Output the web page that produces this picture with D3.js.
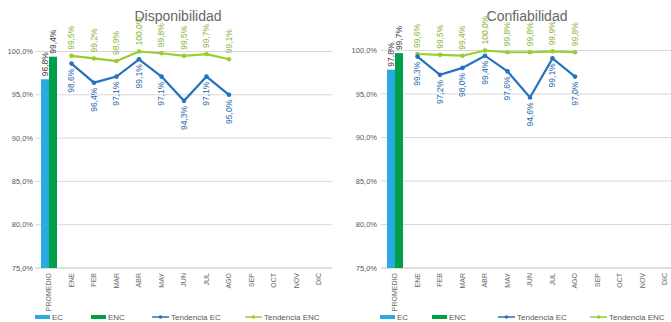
<!DOCTYPE html>
<html>
<head>
<meta charset="utf-8">
<script src="https://cdn.jsdelivr.net/npm/d3@7"></script>
<style>
  body { margin: 0; background: #fff; }
  text { font-family: Arial, "Liberation Sans", sans-serif; }
</style>
</head>
<body>
<svg class="display"></svg>
<script>
const categories = ['PROMEDIO', 'ENE', 'FEB', 'MAR', 'ABR', 'MAY', 'JUN', 'JUL', 'AGO', 'SEP', 'OCT', 'NOV', 'DIC'];
const months = ['ENE', 'FEB', 'MAR', 'ABR', 'MAY', 'JUN', 'JUL', 'AGO'];
const yTicks = [75, 80, 85, 90, 95, 100];

// Disponibilidad
const dispBars = [96.8, 99.4];            // EC, ENC promedio
const dispTendEC = [98.6, 96.4, 97.1, 99.1, 97.1, 94.3, 97.1, 95.0];
const dispTendENC = [99.5, 99.2, 98.9, 100.0, 99.8, 99.5, 99.7, 99.1];

// Confiabilidad
const confBars = [97.8, 99.7];
const confTendEC = [99.3, 97.2, 98.0, 99.4, 97.6, 94.6, 99.1, 97.0];
const confTendENC = [99.6, 99.5, 99.4, 100.0, 99.8, 99.8, 99.9, 99.8];

const width = 671;
const height = 322;

const colEC = '#29abe2';
const colENC = '#00a04b';
const colTendEC = '#2672be';
const colTendENC = '#9acd32';
const labEC = '#2a6ab0';
const labENC = '#8ab33a';
const grey = '#595959';

const fmt = v => d3.format('.1f')(v).replace('.', ',') + '%';

const svg = d3.select('.display')
  .attr('width', width)
  .attr('height', height);

drawChart({
  title: 'Disponibilidad', titleX: 178,
  x0: 37.75, x1: 330.25, gridX0: 35, gridX1: 332, tickX: 33,
  yTop: 51.5,
  bars: dispBars, tendEC: dispTendEC, tendENC: dispTendENC,
  legend: [35, 91, 152, 245]
});

drawChart({
  title: 'Confiabilidad', titleX: 527,
  x0: 383.75, x1: 676.25, gridX0: 381, gridX1: 671, tickX: 377,
  yTop: 50.5,
  bars: confBars, tendEC: confTendEC, tendENC: confTendENC,
  legend: [380, 432, 498, 590]
});

function drawChart(o) {
  const g = svg.append('g');

  const x = d3.scaleBand()
    .domain(categories)
    .range([o.x0, o.x1]);

  const y = d3.scaleLinear()
    .domain([75, 100])
    .range([268, o.yTop]);

  // title
  g.append('text')
    .attr('x', o.titleX)
    .attr('y', 21)
    .attr('text-anchor', 'middle')
    .attr('fill', '#666')
    .style('font-size', '14px')
    .text(o.title);

  // gridlines
  g.selectAll('.grid')
    .data(yTicks)
    .enter().append('line')
      .attr('x1', o.gridX0)
      .attr('x2', o.gridX1)
      .attr('y1', d => y(d))
      .attr('y2', d => y(d))
      .attr('stroke', d => d === 75 ? '#bfbfbf' : '#d9d9d9')
      .attr('stroke-width', 1);

  // y tick labels
  g.selectAll('.ytick')
    .data(yTicks)
    .enter().append('text')
      .attr('x', o.tickX)
      .attr('y', d => y(d))
      .attr('dy', '0.35em')
      .attr('text-anchor', 'end')
      .attr('fill', grey)
      .style('font-size', '7.5px')
      .text(d => d3.format('.1f')(d).replace('.', ',') + '%');

  // category labels
  g.selectAll('.xtick')
    .data(categories)
    .enter().append('text')
      .attr('transform', d => 'translate(' + (x(d) + x.bandwidth() / 2) + ',273) rotate(-90)')
      .attr('dy', '0.35em')
      .attr('text-anchor', 'end')
      .attr('fill', '#6a6a6a')
      .style('font-size', '7px')
      .text(d => d);

  // promedio bars
  const cx = x('PROMEDIO') + x.bandwidth() / 2;
  const barW = 8;
  const bars = [
    { v: o.bars[0], c: colEC, x: cx - barW },
    { v: o.bars[1], c: colENC, x: cx }
  ];
  g.selectAll('.bar')
    .data(bars)
    .enter().append('rect')
      .attr('x', d => d.x)
      .attr('width', barW)
      .attr('y', d => y(d.v))
      .attr('height', d => y(75) - y(d.v))
      .attr('fill', d => d.c);

  g.selectAll('.barlab')
    .data(bars)
    .enter().append('text')
      .attr('transform', d => 'translate(' + (d.x + barW / 2) + ',' + (y(d.v) - 3) + ') rotate(-90)')
      .attr('dy', '0.35em')
      .attr('fill', '#404040')
      .style('font-size', '8.5px')
      .text(d => fmt(d.v));

  const mx = m => x(m) + x.bandwidth() / 2;
  const line = d3.line()
    .x((d, i) => mx(months[i]))
    .y(d => y(d));

  // series lines
  [[o.tendENC, colTendENC], [o.tendEC, colTendEC]].forEach(([vals, col]) => {
    g.append('path')
      .datum(vals)
      .attr('d', line)
      .attr('fill', 'none')
      .attr('stroke', col)
      .attr('stroke-width', 2.2);

    g.selectAll(null)
      .data(vals)
      .enter().append('circle')
        .attr('cx', (d, i) => mx(months[i]))
        .attr('cy', d => y(d))
        .attr('r', 2.3)
        .attr('fill', col);
  });

  // labels: ENC above, EC below
  g.selectAll(null)
    .data(o.tendENC)
    .enter().append('text')
      .attr('transform', (d, i) => 'translate(' + mx(months[i]) + ',' + (y(d) - 6) + ') rotate(-90)')
      .attr('dy', '0.35em')
      .attr('fill', labENC)
      .style('font-size', '8.5px')
      .text(d => fmt(d));

  g.selectAll(null)
    .data(o.tendEC)
    .enter().append('text')
      .attr('transform', (d, i) => 'translate(' + mx(months[i]) + ',' + (y(d) + 5) + ') rotate(-90)')
      .attr('dy', '0.35em')
      .attr('text-anchor', 'end')
      .attr('fill', labEC)
      .style('font-size', '8.5px')
      .text(d => fmt(d));

  // legend
  const ly = 317;
  const lg = g.append('g');
  const items = [
    { t: 'EC', c: colEC, type: 'rect' },
    { t: 'ENC', c: colENC, type: 'rect' },
    { t: 'Tendencia EC', c: colTendEC, type: 'line' },
    { t: 'Tendencia ENC', c: colTendENC, type: 'line' }
  ];
  items.forEach((it, i) => {
    const lx = o.legend[i];
    if (it.type === 'rect') {
      lg.append('rect')
        .attr('x', lx).attr('y', ly - 2)
        .attr('width', 15).attr('height', 4)
        .attr('fill', it.c);
    } else {
      lg.append('line')
        .attr('x1', lx).attr('x2', lx + 17)
        .attr('y1', ly).attr('y2', ly)
        .attr('stroke', it.c).attr('stroke-width', 1.5);
      lg.append('circle')
        .attr('cx', lx + 8.5).attr('cy', ly)
        .attr('r', 1.8).attr('fill', it.c);
    }
    lg.append('text')
      .attr('x', lx + (it.type === 'rect' ? 17 : 19))
      .attr('y', ly)
      .attr('dy', '0.35em')
      .attr('fill', grey)
      .style('font-size', '8px')
      .text(it.t);
  });
}
</script>
</body>
</html>
